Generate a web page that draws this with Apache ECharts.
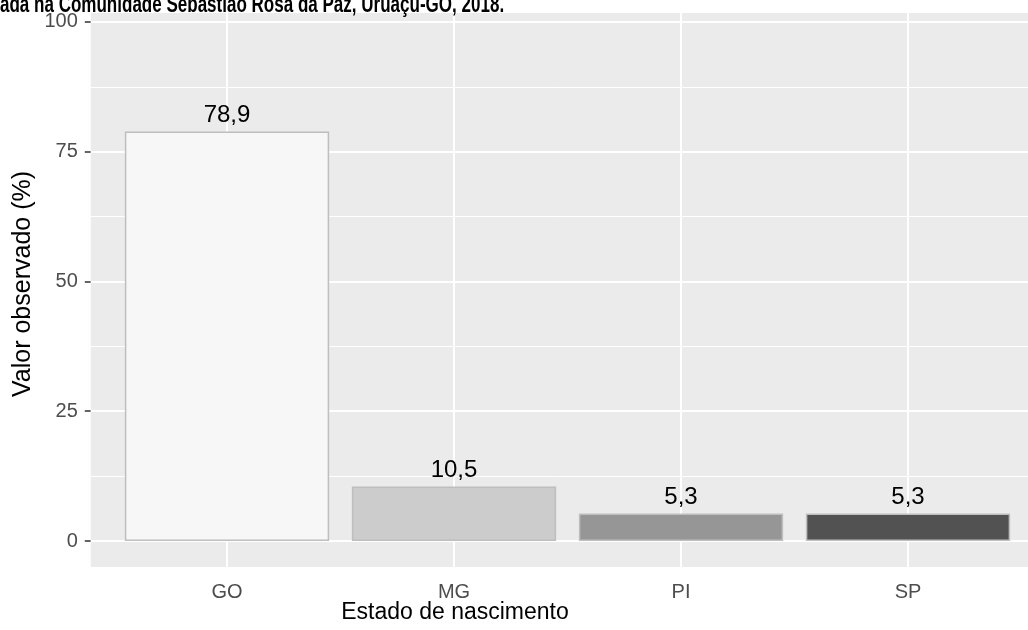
<!DOCTYPE html>
<html><head><meta charset="utf-8">
<script src="https://cdn.jsdelivr.net/npm/echarts@6/dist/echarts.min.js"></script>
<style>html,body{margin:0;padding:0;background:#fff}#c{width:1028px;height:630px}</style>
</head><body><div id="c"></div>
<script>
const categories = ['GO', 'MG', 'PI', 'SP'];
const values = [78.9, 10.5, 5.3, 5.3];
const barColors = ['#F7F7F7', '#CCCCCC', '#969696', '#525252'];
const yTicks = [0, 25, 50, 75, 100];
const yMinor = [12.5, 37.5, 62.5, 87.5];
const titleText = 'ada na Comunidade Sebastião Rosa da Paz, Uruaçu-GO, 2018.';
const xTitle = 'Estado de nascimento';
const yTitle = 'Valor observado (%)';

// layout
const gridLeft = 90.8, gridTop = 13, gridBottom = 63;
const gridWidth = 1028 - gridLeft;
const unitPx = 227;           // pixels per category step
const xMin = 0.4;
const xMax = xMin + gridWidth / unitPx;
const yMin = -5.01, yMax = 101.73;
const FONT = "'Liberation Sans', Arial, sans-serif";

const chart = echarts.init(document.getElementById('c'), null, {renderer: 'canvas'});

const catPos = categories.map((c, i) => i + 1);

const option = {
  animation: false,
  backgroundColor: '#ffffff',
  grid: {
    left: gridLeft, top: gridTop, bottom: gridBottom, width: gridWidth,
    show: true, backgroundColor: '#EBEBEB', borderWidth: 0
  },
  xAxis: {
    type: 'value', min: xMin, max: xMax,
    axisLine: {show: false},
    splitLine: {show: false},
    axisTick: {show: true, customValues: catPos, length: 6, lineStyle: {color: '#333333', width: 1.5}},
    axisLabel: {
      customValues: catPos, margin: 15,
      formatter: v => categories[Math.round(v) - 1] || '',
      color: '#4D4D4D', fontSize: 20, fontFamily: FONT
    }
  },
  yAxis: {
    type: 'value', min: yMin, max: yMax,
    axisLine: {show: false},
    splitLine: {show: false},
    axisTick: {show: true, customValues: yTicks, length: 6, lineStyle: {color: '#333333', width: 1.5}},
    axisLabel: {customValues: yTicks, margin: 13, color: '#4D4D4D', fontSize: 20, fontFamily: FONT}
  },
  graphic: [
    {type: 'text', x: 0, y: 17, scaleX: 0.74, z: 100,
     style: {text: titleText, font: "bold 23px 'Liberation Sans', Arial, sans-serif", fill: '#000', textVerticalAlign: 'bottom'}},
    {type: 'text', x: 455, y: 613, z: 100,
     style: {text: xTitle, font: "23px 'Liberation Sans', Arial, sans-serif", fill: '#000', textAlign: 'center', textVerticalAlign: 'middle'}},
    {type: 'text', x: 23, y: 284, rotation: Math.PI / 2, z: 100,
     style: {text: yTitle, font: "25px 'Liberation Sans', Arial, sans-serif", fill: '#000', textAlign: 'center', textVerticalAlign: 'middle'}}
  ],
  series: [
    {
      type: 'line', data: [], z: 1, silent: true,
      markLine: {
        silent: true, symbol: 'none', z: 1, animation: false,
        label: {show: false},
        lineStyle: {color: '#FFFFFF', type: 'solid', width: 2},
        data: [
          ...yMinor.map(v => ({yAxis: v, lineStyle: {color: '#FFFFFF', type: 'solid', width: 1}})),
          ...yTicks.map(v => ({yAxis: v, lineStyle: {color: '#FFFFFF', type: 'solid', width: 2}})),
          ...catPos.map(v => ({xAxis: v, lineStyle: {color: '#FFFFFF', type: 'solid', width: 2}}))
        ]
      }
    },
    {
      type: 'bar', z: 3,
      barWidth: 0.9 * unitPx,
      data: categories.map((c, i) => ({value: [i + 1, values[i]], itemStyle: {color: barColors[i]}})),
      itemStyle: {borderColor: '#BEBEBE', borderWidth: 1.5},
      label: {
        show: true, position: 'top', distance: 4,
        formatter: p => p.value[1].toFixed(1).replace('.', ','),
        color: '#000', fontSize: 24, fontFamily: FONT
      }
    }
  ]
};
chart.setOption(option);
</script>
</body></html>
